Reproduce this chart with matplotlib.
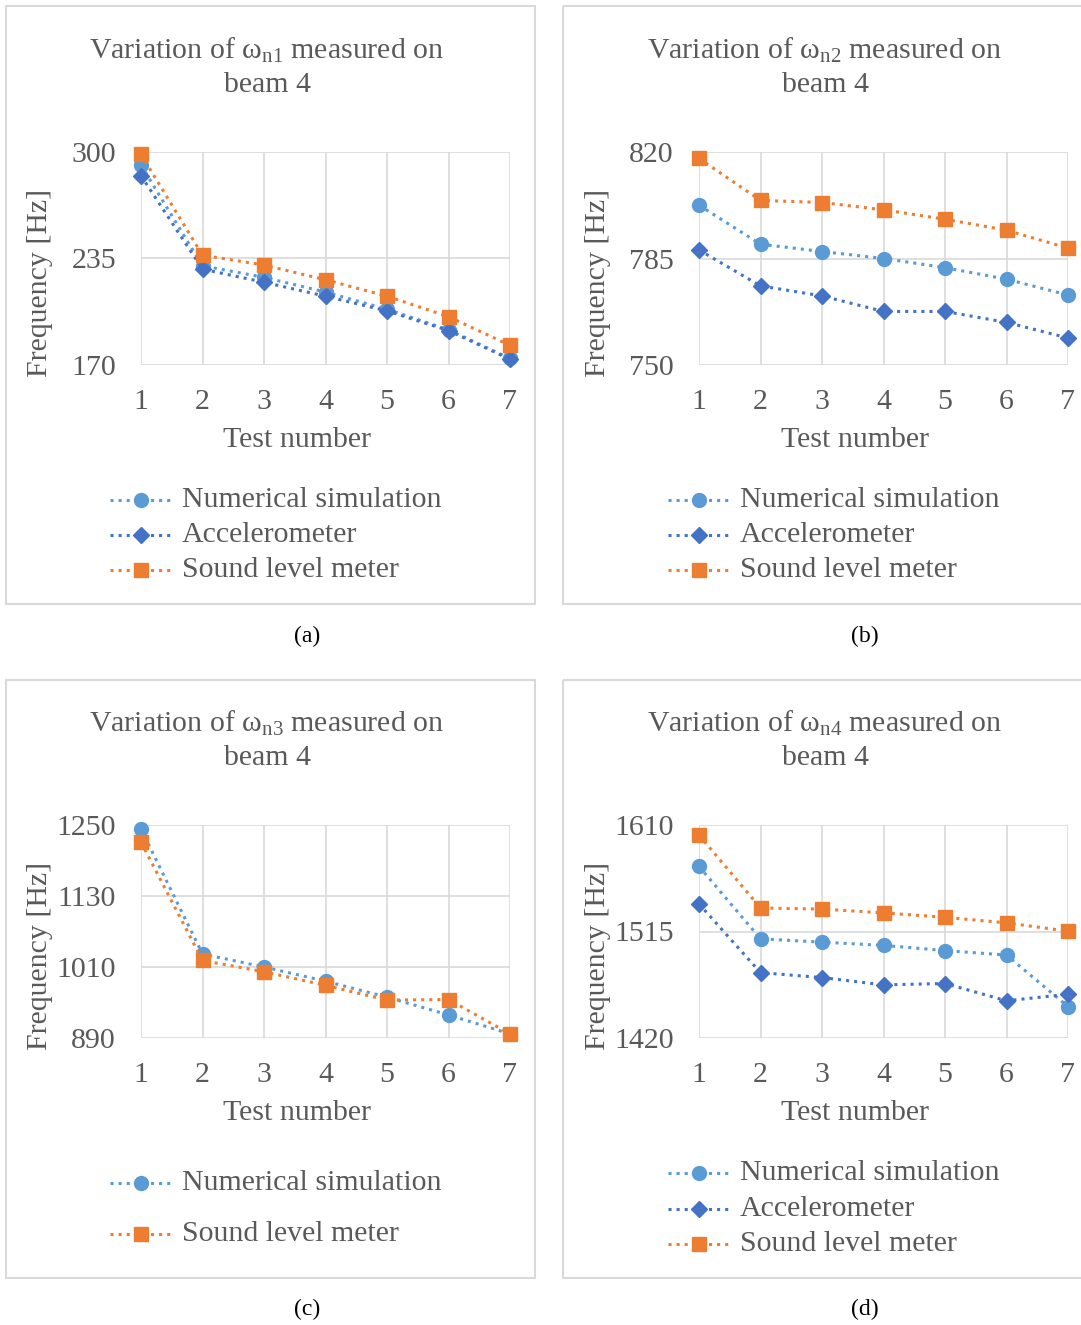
import matplotlib
matplotlib.use("Agg")
import matplotlib.pyplot as plt
from matplotlib.patches import Rectangle
from matplotlib.lines import Line2D

plt.rcParams["font.family"] = ["Liberation Serif", "DejaVu Serif"]
plt.rcParams["mathtext.fontset"] = "custom"
plt.rcParams["mathtext.rm"] = "Liberation Serif"
plt.rcParams["mathtext.it"] = "Liberation Serif:italic"

# ---- data ----
tests = [1, 2, 3, 4, 5, 6, 7]

num_a = [292, 230.5, 223.5, 214.5, 204, 191.5, 174]
acc_a = [285.5, 228.5, 220.5, 212, 203, 191, 173.5]
slm_a = [298.5, 237, 231, 222, 212, 199.5, 182]

num_b = [802.5, 789.7, 787.3, 785, 782, 778.2, 773]
acc_b = [787.8, 776, 772.7, 767.6, 767.6, 764, 758.9]
slm_b = [817.9, 804.1, 803.4, 801, 797.9, 794.3, 788.4]

num_c = [1243, 1032, 1010, 986, 959, 929, 897]
slm_c = [1221, 1021, 1002, 979, 954, 955, 897]

num_d = [1573, 1508.5, 1505.5, 1502.6, 1498, 1494, 1448]
acc_d = [1539.6, 1478.3, 1473.9, 1467.4, 1468.6, 1453.2, 1459]
slm_d = [1601, 1536, 1535, 1531.6, 1527.7, 1522.7, 1515.3]

yticks_a = [170, 235, 300]
yticks_b = [750, 785, 820]
yticks_c = [890, 1010, 1130, 1250]
yticks_d = [1420, 1515, 1610]

C_NUM = "#5B9BD5"
C_ACC = "#4472C4"
C_SLM = "#ED7D31"
INK = "#595959"
GRID = "#D9D9D9"
FS = 21.5

W, H = 1081, 1325
fig = plt.figure(figsize=(W / 100, H / 100), dpi=100)


def px_axes(left, top, right, bottom):
    return fig.add_axes([left / W, 1 - bottom / H, (right - left) / W, (bottom - top) / H])


STYLES = {
    "num": dict(color=C_NUM, marker="o", ms=10),
    "acc": dict(color=C_ACC, marker="D", ms=8),
    "slm": dict(color=C_SLM, marker="s", ms=9.5),
}


def panel(ax, series, yticks):
    for key, vals in series:
        st = STYLES[key]
        ax.plot(tests, vals, linestyle=":", lw=2.2, color=st["color"], marker=st["marker"],
                ms=st["ms"], mec=st["color"], mfc=st["color"], clip_on=False, zorder=3)
    ax.set_xlim(1, 7)
    ax.set_ylim(yticks[0], yticks[-1])
    ax.set_xticks(tests)
    ax.set_yticks(yticks)
    ax.grid(True, color=GRID, lw=1.2)
    ax.set_axisbelow(True)
    for s in ax.spines.values():
        s.set_visible(False)
    ax.tick_params(length=0, labelsize=FS, labelcolor=INK)
    ax.tick_params(axis="x", pad=17)
    ax.tick_params(axis="y", pad=18)


ax_a = px_axes(141, 152, 510, 365)
ax_b = px_axes(699, 152, 1068, 365)
ax_c = px_axes(141, 825, 510, 1038)
ax_d = px_axes(699, 825, 1068, 1038)

panel(ax_a, [("num", num_a), ("acc", acc_a), ("slm", slm_a)], yticks_a)
panel(ax_b, [("num", num_b), ("acc", acc_b), ("slm", slm_b)], yticks_b)
panel(ax_c, [("num", num_c), ("slm", slm_c)], yticks_c)
panel(ax_d, [("num", num_d), ("acc", acc_d), ("slm", slm_d)], yticks_d)

# overlay in pixel coordinates for boxes, titles and legends
ov = fig.add_axes([0, 0, 1, 1], zorder=10)
ov.set_xlim(0, W)
ov.set_ylim(H, 0)
ov.axis("off")
ov.patch.set_alpha(0)

LABELS = {"num": "Numerical simulation", "acc": "Accelerometer", "slm": "Sound level meter"}

panels = [
    # box left, box top, x-offset, y-offset, mode, legend rows, label, row y
    (6, 6, 0, 0, "1", ["num", "acc", "slm"], "(a)", [500, 535, 570]),
    (563, 6, 558, 0, "2", ["num", "acc", "slm"], "(b)", [500, 535, 570]),
    (6, 680, 0, 673, "3", ["num", "slm"], "(c)", [1183, 1234]),
    (563, 680, 558, 673, "4", ["num", "acc", "slm"], "(d)", [1173, 1209, 1244]),
]

for bx, by, dx, dy, mode, rows, lab, rys in panels:
    ov.add_patch(Rectangle((bx, by), 529, 598, fill=False, ec=GRID, lw=1.5))
    ov.text(267 + dx, 50 + dy, r"Variation of $\mathrm{ω}_{\mathrm{n" + mode + r"}}$ measured on",
            ha="center", va="center", fontsize=FS, color=INK)
    ov.text(267 + dx, 85 + dy, "beam 4", ha="center", va="center", fontsize=FS, color=INK)
    ov.text(297 + dx, 440 + dy, "Test number", ha="center", va="center", fontsize=FS, color=INK)
    ov.text(40 + dx, 283 + dy, "Frequency [Hz]", ha="center", va="center", rotation=90,
            fontsize=FS, color=INK)
    ov.text(307 + dx, 636 + dy, lab, ha="center", va="center", fontsize=17, color="black")
    for key, ry in zip(rows, rys):
        st = STYLES[key]
        ov.add_line(Line2D([110 + dx, 141 + dx, 170 + dx], [ry, ry, ry], linestyle=":", lw=2.2,
                           color=st["color"], marker=st["marker"], ms=st["ms"],
                           markevery=[1], mec=st["color"], mfc=st["color"]))
        ov.text(182 + dx, ry, LABELS[key], ha="left", va="center", fontsize=FS, color=INK)

fig.savefig("out.png", dpi=100)
